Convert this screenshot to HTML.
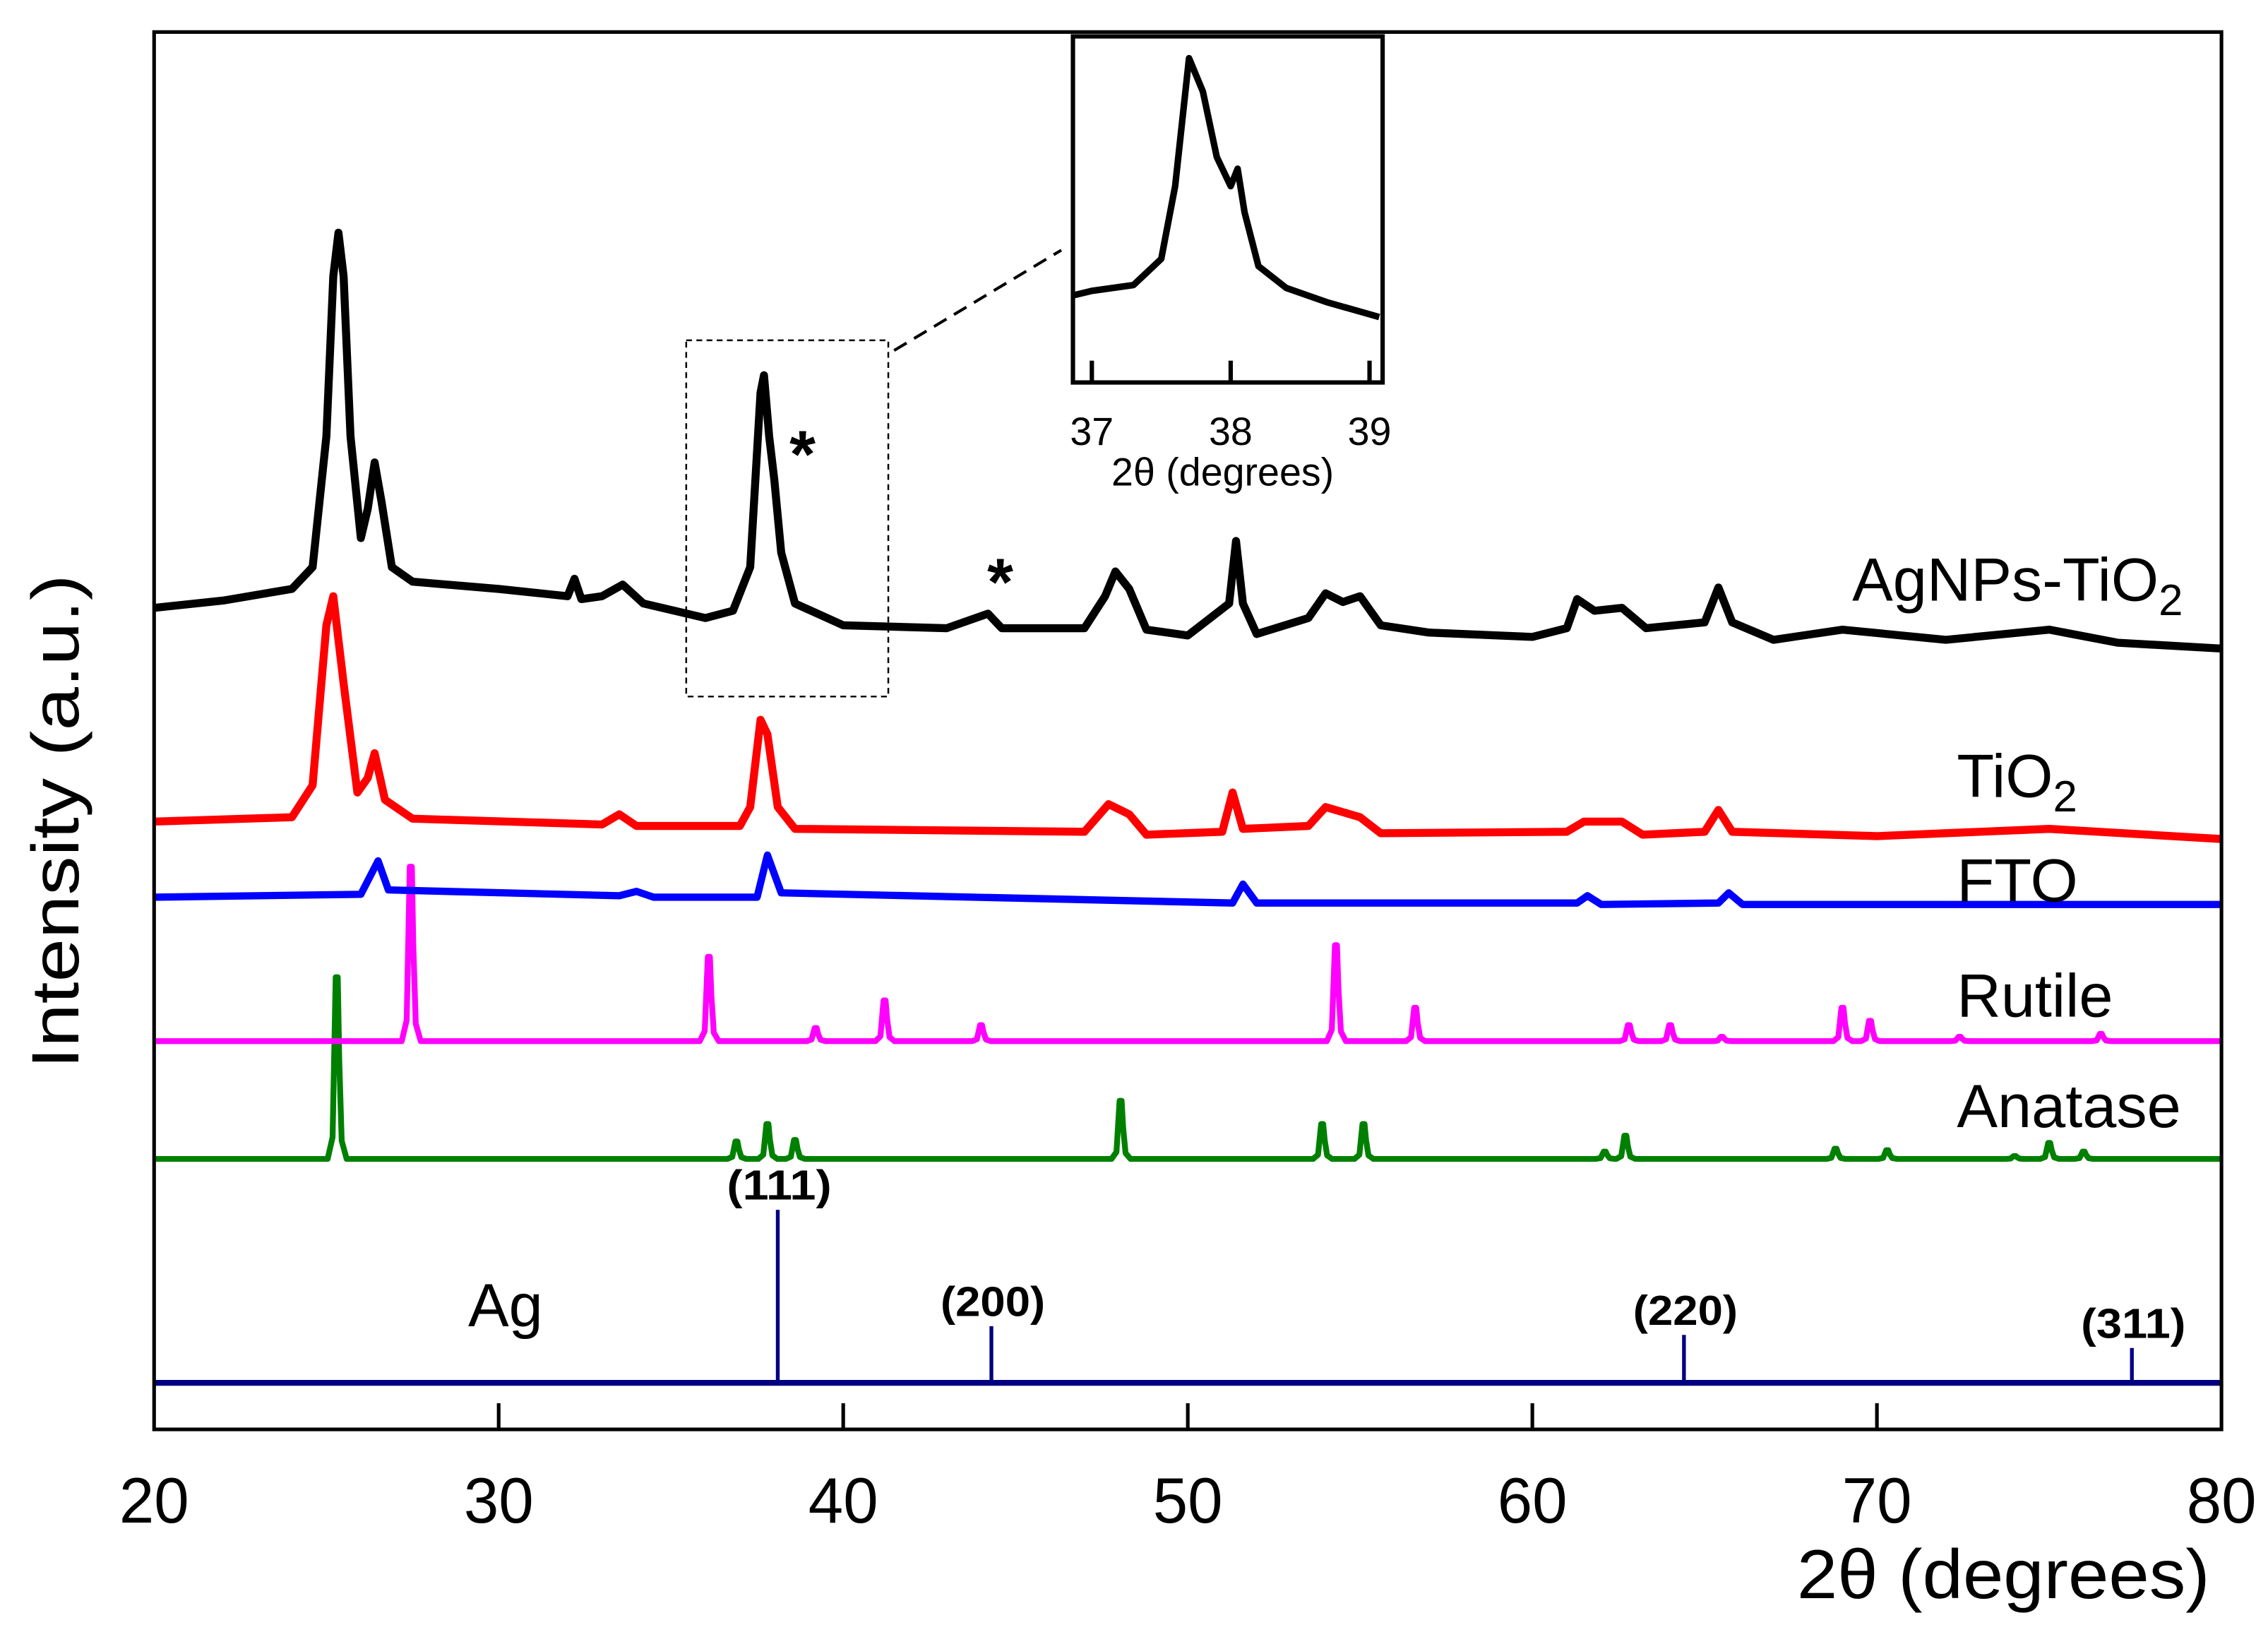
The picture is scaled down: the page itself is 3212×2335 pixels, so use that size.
<!DOCTYPE html>
<html><head><meta charset="utf-8"><title>XRD patterns</title>
<style>
html,body{margin:0;padding:0;background:#fff;}
svg{display:block;}
text{font-family:"Liberation Sans",Arial,sans-serif;}
</style></head>
<body>
<svg id="chart" xmlns="http://www.w3.org/2000/svg" width="3212" height="2335" viewBox="0 0 1560 1134">
<rect x="0" y="0" width="1560" height="1134" fill="#fff"/>
<g id="series"></g>
<g id="axes"></g>
<g id="inset"></g>
<g id="labels"></g>
</svg>
<script>
// ---- data (2θ in degrees, intensity in arbitrary units) ----
const xTicks = [20, 30, 40, 50, 60, 70, 80];
const agX = [20, 22, 24, 24.6, 25.0, 25.2, 25.35, 25.5, 25.7, 26.0, 26.2, 26.4, 26.6, 26.9, 27.5, 30, 32, 32.2, 32.4, 33, 33.6, 34.2, 36, 36.8, 37.3, 37.6, 37.7, 37.85, 38.0, 38.2, 38.6, 40, 43, 44.2, 44.6, 47, 47.6, 47.9, 48.3, 48.8, 50, 51.2, 51.4, 51.6, 52, 53.5, 54, 54.5, 55, 55.6, 57, 60, 61, 61.3, 61.8, 62.6, 63.3, 65, 65.4, 65.8, 67, 69, 72, 75, 77, 80];
const agY = [32, 37, 45, 60, 150, 260, 290, 260, 150, 80, 100, 132, 105, 60, 50, 45, 40, 52, 38, 40, 48, 35, 25, 30, 60, 180, 192, 150, 120, 70, 35, 20, 18, 28, 18, 18, 40, 57, 45, 17, 13, 35, 78, 35, 14, 25, 42, 36, 40, 20, 15, 12, 18, 38, 30, 32, 18, 22, 46, 22, 10, 17, 10, 17, 8, 4];
const tiX = [20, 24, 24.6, 25.0, 25.2, 25.5, 25.9, 26.2, 26.4, 26.7, 27.5, 33, 33.5, 34, 37, 37.3, 37.6, 37.8, 38.1, 38.6, 47, 47.7, 48.3, 48.8, 51, 51.3, 51.6, 53.5, 54, 55, 55.6, 61, 61.5, 62.6, 63.2, 65, 65.4, 65.8, 70, 75, 80];
const tiY = [15, 18, 40, 150, 170, 110, 35, 45, 62, 30, 17, 13, 20, 12, 12, 25, 85, 75, 25, 10, 8, 27, 20, 6, 8, 35, 10, 12, 25, 18, 7, 8, 15, 15, 6, 8, 23, 8, 5, 10, 3];
const ftoX = [20, 26, 26.5, 26.8, 33.5, 34, 34.5, 37.5, 37.8, 38.2, 51.3, 51.6, 52, 61.3, 61.6, 62, 65.4, 65.7, 66.1, 80];
const ftoY = [5, 7, 30, 10, 6, 9, 5, 5, 34, 8, 1, 14, 1, 1, 6, 0, 1, 8, 0, 0];
const rutPos = [27.45, 36.1, 39.2, 41.2, 44.0, 54.3, 56.6, 62.8, 64.0, 65.5, 69.0, 69.8, 72.4, 76.5];
const rutInt = [120, 58, 9, 28, 11, 66, 23, 11, 11, 3, 23, 14, 3, 5];
const anaPos = [25.3, 36.9, 37.8, 38.6, 48.05, 53.9, 55.1, 62.1, 62.7, 68.8, 70.3, 74.0, 75.0, 76.0];
const anaInt = [125, 12, 24, 13, 40, 24, 24, 5, 16, 7, 6, 2, 11, 5];
const agRefPos = [38.1, 44.3, 64.4, 77.4];
const agRefInt = [119, 39, 33, 24];
const agRefHkl = ["(111)", "(200)", "(220)", "(311)"];
const insetX = [36.87, 37.0, 37.3, 37.5, 37.6, 37.7, 37.8, 37.9, 38.0, 38.05, 38.1, 38.2, 38.4, 38.7, 39.07];
const insetY = [15, 18, 22, 40, 90, 178, 155, 110, 90, 102, 72, 35, 20, 10, 0];
const insetTicks = [37, 38, 39];

// ---- scales ----
const L = 106, R = 1528, T = 22, B = 983;
function x(v){ return L + (v - 20) * (R - L) / 60; }
const NS = "http://www.w3.org/2000/svg";
function el(tag, attrs, parent){ const e = document.createElementNS(NS, tag); for (const k in attrs) e.setAttribute(k, attrs[k]); parent.appendChild(e); return e; }
const gS = document.getElementById('series'), gA = document.getElementById('axes'), gI = document.getElementById('inset'), gL = document.getElementById('labels');

function tracePath(xs, ys, base, tilt){
  let d = '';
  for (let i = 0; i < xs.length; i++) {
    const yb = base + tilt * (xs[i] - 20) / 60;
    d += (i ? 'L' : 'M') + x(xs[i]).toFixed(2) + ' ' + (yb - ys[i]).toFixed(2);
  }
  return d;
}
function peakPath(pos, ints, base, hw){
  let d = 'M' + x(20) + ' ' + base;
  const idx = pos.map((p, i) => i).sort((a, b) => pos[a] - pos[b]);
  for (const i of idx) {
    d += 'L' + x(pos[i] - hw * 2.2) + ' ' + base;
    d += 'L' + x(pos[i] - hw) + ' ' + (base - ints[i] * 0.12);
    d += 'L' + x(pos[i] - hw * 0.25) + ' ' + (base - ints[i]);
    d += 'L' + x(pos[i] + hw * 0.25) + ' ' + (base - ints[i]);
    d += 'L' + x(pos[i] + hw * 0.6) + ' ' + (base - ints[i] * 0.55);
    d += 'L' + x(pos[i] + hw * 1.2) + ' ' + (base - ints[i] * 0.1);
    d += 'L' + x(pos[i] + hw * 2.4) + ' ' + base;
  }
  d += 'L' + x(80) + ' ' + base;
  return d;
}

let p;
p = el('path', {d: peakPath(anaPos, anaInt, 797, 0.12), fill: 'none', stroke: '#008000', 'stroke-width': 4, 'stroke-linejoin': 'round'}, gS);


p = el('path', {d: peakPath(rutPos, rutInt, 716, 0.12), fill: 'none', stroke: '#ff00ff', 'stroke-width': 4, 'stroke-linejoin': 'round'}, gS);


p = el('path', {d: tracePath(ftoX, ftoY, 622, 0), fill: 'none', stroke: '#0000ff', 'stroke-width': 5, 'stroke-linejoin': 'round'}, gS);


p = el('path', {d: tracePath(tiX, tiY, 580, 0), fill: 'none', stroke: '#ff0000', 'stroke-width': 5.5, 'stroke-linejoin': 'round'}, gS);


p = el('path', {d: tracePath(agX, agY, 450, 0), fill: 'none', stroke: '#000', 'stroke-width': 5.5, 'stroke-linejoin': 'round'}, gS);



// Ag reference sticks
p = el('line', {x1: x(20), x2: x(80), y1: 951, y2: 951, stroke: '#000080', 'stroke-width': 4}, gS);


agRefPos.forEach((v, i) => {
  const s = el('line', {x1: x(v), x2: x(v), y1: 951, y2: 951 - agRefInt[i], stroke: '#000080', 'stroke-width': 2.6}, gS);
  
  
  const t = el('text', {x: x(v) + 1, y: 951 - agRefInt[i] - 7, 'font-size': 29, 'font-weight': 'bold', 'text-anchor': 'middle', textLength: 72, lengthAdjust: 'spacingAndGlyphs'}, gL);
  t.textContent = agRefHkl[i];
  
  
});

// axes frame
p = el('rect', {x: L, y: T, width: R - L, height: B - T, fill: 'none', stroke: '#000', 'stroke-width': 2.5}, gA);


xTicks.forEach(v => {
  if (v > 20 && v < 80) {
    const tk = el('line', {x1: x(v), x2: x(v), y1: B, y2: B - 18, stroke: '#000', 'stroke-width': 2.5}, gA);
    
    
  }
  const t = el('text', {x: x(v), y: 1047, 'font-size': 44, 'text-anchor': 'middle', textLength: 48, lengthAdjust: 'spacingAndGlyphs'}, gA);
  t.textContent = v;
  
  
});
p = el('text', {x: 1520, y: 1099, 'font-size': 48, 'text-anchor': 'end', textLength: 284, lengthAdjust: 'spacingAndGlyphs'}, gA);
p.textContent = '2θ (degrees)';


p = el('text', {x: 0, y: 0, 'font-size': 46, 'text-anchor': 'middle', textLength: 340, lengthAdjust: 'spacingAndGlyphs', transform: 'translate(54,565) rotate(-90)'}, gA);
p.textContent = 'Intensity (a.u.)';



// series labels
function lab(txt, sub, xx, yy, name){
  const t = el('text', {x: xx, y: yy, 'font-size': 42}, gL);
  t.textContent = txt;
  if (sub) { const s = el('tspan', {'font-size': 30, dy: 10}, t); s.textContent = sub; }
  
  
}
lab('AgNPs-TiO', '2', 1274, 413, 'label-agnps-tio2');
lab('TiO', '2', 1346, 548, 'label-tio2');
lab('FTO', '', 1346, 620, 'label-fto');
lab('Rutile', '', 1346, 699, 'label-rutile');
lab('Anatase', '', 1346, 775, 'label-anatase');
lab('Ag', '', 322, 912, 'label-ag');
p = el('text', {x: 552, y: 328, 'font-size': 46, 'font-weight': 'bold', 'text-anchor': 'middle'}, gL);
p.textContent = '*';


p = el('text', {x: 688, y: 416, 'font-size': 46, 'font-weight': 'bold', 'text-anchor': 'middle'}, gL);
p.textContent = '*';



// zoom box and connector
p = el('rect', {x: 472, y: 234, width: 139, height: 245, fill: 'none', stroke: '#000', 'stroke-width': 1.2, 'stroke-dasharray': '4 3'}, gL);


p = el('line', {x1: 615, y1: 241, x2: 730, y2: 172, stroke: '#000', 'stroke-width': 2, 'stroke-dasharray': '10 6'}, gL);



// inset
const iL = 738, iR = 951, iT = 25, iB = 263;
function ix(v){ return 751 + (v - 37) * 95.5; }
p = el('rect', {x: iL, y: iT, width: iR - iL, height: iB - iT, fill: '#fff', stroke: '#000', 'stroke-width': 3}, gI);


let d = '';
insetX.forEach((v, i) => { d += (i ? 'L' : 'M') + ix(v).toFixed(2) + ' ' + (218 - insetY[i]).toFixed(2); });
p = el('path', {d: d, fill: 'none', stroke: '#000', 'stroke-width': 4.5, 'stroke-linejoin': 'round'}, gI);


insetTicks.forEach(v => {
  const tk = el('line', {x1: ix(v), x2: ix(v), y1: iB, y2: iB - 15, stroke: '#000', 'stroke-width': 3}, gI);
  
  
  const t = el('text', {x: ix(v), y: 306, 'font-size': 27, 'text-anchor': 'middle'}, gI);
  t.textContent = v;
  
  
});
p = el('text', {x: 841, y: 334, 'font-size': 27, 'text-anchor': 'middle'}, gI);
p.textContent = '2θ (degrees)';


</script>
</body></html>
